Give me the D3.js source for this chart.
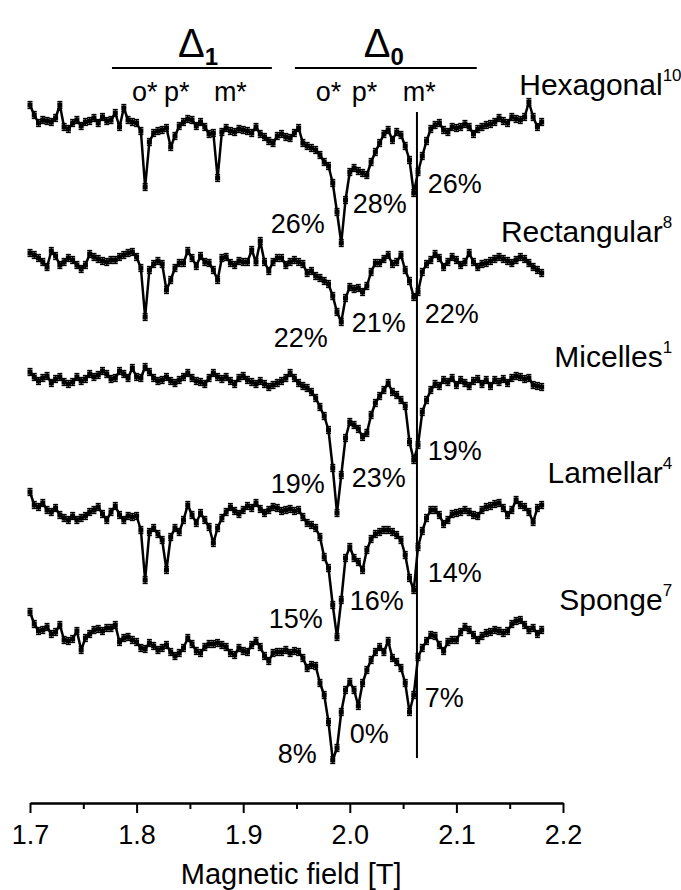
<!DOCTYPE html>
<html>
<head>
<meta charset="utf-8">
<script src="https://cdn.jsdelivr.net/npm/d3@7"></script>
<style>
  html, body { margin: 0; padding: 0; background: #fff; }
  svg { display: block; font-family: "Liberation Sans", Arial, Helvetica, sans-serif; }
</style>
</head>
<body>
<svg id="chart" width="681" height="890"></svg>
<script>
// Magnetic field grid [T]
const field = [
  1.700,1.704,1.708,1.712,1.716,1.720,1.724,1.728,1.732,1.736,
  1.740,1.744,1.748,1.752,1.756,1.760,1.764,1.768,1.772,1.776,
  1.780,1.784,1.788,1.792,1.796,1.800,1.804,1.808,1.812,1.816,
  1.820,1.824,1.828,1.832,1.836,1.840,1.844,1.848,1.852,1.856,
  1.860,1.864,1.868,1.872,1.876,1.880,1.884,1.888,1.892,1.896,
  1.900,1.904,1.908,1.912,1.916,1.920,1.924,1.928,1.932,1.936,
  1.940,1.944,1.948,1.952,1.956,1.960,1.964,1.968,1.972,1.976,
  1.980,1.984,1.988,1.992,1.996,2.000,2.004,2.008,2.012,2.016,
  2.020,2.024,2.028,2.032,2.036,2.040,2.044,2.048,2.052,2.056,
  2.060,2.064,2.068,2.072,2.076,2.080,2.084,2.088,2.092,2.096,
  2.100,2.104,2.108,2.112,2.116,2.120,2.124,2.128,2.132,2.136,
  2.140,2.144,2.148,2.152,2.156,2.160,2.164,2.168,2.172,2.176,
  2.180
];

// Relative transmission [%] for each phase
const hexagonal = [
  101.3,100.3,99.5,99.8,99.7,99.6,100.0,101.3,99.1,98.9,
  99.5,99.8,99.2,99.6,99.7,100.0,99.5,100.1,99.7,99.8,
  100.5,99.1,101.0,99.8,99.6,99.5,98.7,93.1,97.6,98.5,
  98.7,98.8,99.0,97.1,98.2,99.2,99.6,99.9,99.8,99.2,
  99.6,99.1,98.4,98.5,94.0,98.6,99.0,98.7,98.6,98.9,
  98.8,98.7,98.5,99.1,98.4,98.1,97.7,97.5,98.2,98.4,
  98.1,98.0,98.5,99.0,97.5,97.2,97.0,96.8,96.3,95.6,
  95.2,93.5,90.6,87.5,91.8,94.6,95.0,94.7,94.5,94.3,
  95.6,96.6,97.5,98.4,98.8,97.8,98.6,98.3,97.2,95.8,
  92.5,94.6,96.2,97.7,98.9,99.3,99.5,98.8,98.6,99.1,
  99.0,99.1,99.4,99.1,98.4,98.9,99.1,99.3,99.4,99.6,
  100.0,99.7,99.5,100.1,99.9,99.8,100.1,101.6,100.1,99.1,
  99.6
];
const rectangular = [
  100.5,100.3,100.0,99.6,99.1,100.7,100.2,99.3,99.6,100.0,
  99.8,99.3,98.9,99.3,100.4,100.1,99.9,99.7,99.6,99.8,
  99.8,100.1,100.3,100.5,100.6,100.1,99.0,94.1,98.8,99.4,
  99.7,99.4,96.8,97.8,99.0,99.5,99.5,100.7,100.0,99.2,
  100.2,99.6,99.5,98.8,97.8,100.0,100.1,99.5,99.3,99.7,
  99.6,99.6,100.8,99.6,101.7,99.6,98.7,99.6,100.0,100.0,
  99.3,99.6,99.8,99.6,99.4,98.5,98.7,98.2,98.0,97.7,
  97.4,96.2,94.6,93.6,96.0,97.1,96.9,97.0,96.6,97.2,
  98.6,99.5,99.5,99.9,100.3,99.4,99.6,100.3,98.8,97.7,
  96.1,96.6,98.6,99.4,99.8,100.4,100.0,99.1,99.6,100.1,
  99.8,99.3,99.6,100.5,99.6,99.1,99.4,99.5,99.7,99.9,
  100.1,99.9,99.7,99.5,99.8,100.1,99.9,99.5,99.1,98.8,
  98.5
];
const micelles = [
  100.6,100.1,99.7,100.0,100.2,99.5,99.9,100.1,99.6,99.4,
  99.6,100.1,99.7,99.9,100.4,100.1,100.3,100.7,100.4,99.9,
  100.0,100.7,100.4,100.0,101.0,100.1,100.0,101.1,100.6,100.0,
  99.7,99.8,100.1,99.7,99.5,99.8,100.1,100.5,100.0,99.7,
  99.6,99.4,100.0,100.5,100.1,99.9,100.1,99.7,99.4,100.0,
  100.2,99.8,99.6,99.4,99.7,99.4,99.1,99.3,99.5,99.7,
  100.0,100.5,100.0,99.5,99.2,99.0,98.6,98.0,97.1,96.2,
  94.8,91.0,86.5,90.3,94.0,95.6,95.3,94.9,94.1,94.5,
  96.3,97.5,98.2,98.8,99.5,98.6,98.3,97.8,97.2,93.6,
  91.8,93.3,96.6,97.8,98.8,99.4,99.2,99.8,99.6,100.0,
  99.3,99.8,99.5,99.2,99.7,99.9,99.4,99.8,99.2,99.8,
  99.6,99.9,99.5,100.0,100.2,100.1,99.9,100.0,99.3,99.2,
  99.1
];
const lamellar = [
  102.0,100.7,100.5,100.9,100.2,100.0,100.4,99.7,99.4,99.2,
  99.6,99.2,99.4,99.6,100.0,100.2,100.5,99.8,99.2,100.0,
  100.6,99.7,99.2,99.6,99.5,99.6,98.2,93.2,98.0,98.4,
  97.8,97.2,94.2,97.5,98.4,98.0,99.2,100.7,99.7,98.9,
  99.9,99.2,98.5,96.9,98.4,99.4,100.0,100.5,100.1,99.8,
  100.2,100.6,100.4,100.9,100.3,99.9,100.2,100.5,100.4,100.1,
  100.2,100.3,100.1,100.2,99.5,98.9,98.7,98.4,97.5,95.5,
  94.4,90.7,87.5,91.2,95.4,96.5,95.4,95.0,94.2,96.2,
  97.3,97.8,98.0,98.2,98.2,98.0,97.7,97.2,95.7,93.4,
  92.2,96.5,98.1,99.4,100.2,100.2,99.7,98.8,99.2,99.8,
  99.9,100.0,100.2,100.0,99.7,99.6,100.2,100.5,100.6,100.8,
  100.9,100.4,99.7,100.2,101.2,100.7,100.5,100.0,99.0,100.4,
  100.7
];
const sponge = [
  102.8,101.6,100.9,101.0,101.3,100.6,100.8,101.5,100.0,99.9,
  100.1,100.9,99.0,100.2,100.6,101.0,101.1,100.9,101.2,101.2,
  101.5,99.8,100.2,100.3,100.0,99.8,99.2,99.1,99.7,99.4,
  99.0,99.2,99.5,98.8,98.4,98.7,99.2,100.2,99.6,98.9,
  98.7,99.3,99.6,99.6,99.7,99.5,99.3,98.7,98.5,99.2,
  98.9,98.8,99.5,99.9,99.3,98.4,97.9,98.7,98.8,98.8,
  99.0,98.7,98.9,98.8,98.2,97.2,97.5,97.4,95.7,94.5,
  91.8,88.0,89.2,92.8,95.0,95.8,95.0,93.4,95.7,97.0,
  98.0,98.8,99.3,98.8,99.9,98.2,97.8,97.2,95.7,92.8,
  94.5,98.3,99.2,99.9,100.5,100.4,99.5,98.9,99.8,100.0,
  100.0,100.8,101.3,101.0,100.5,100.0,100.4,100.7,100.8,101.0,
  100.9,100.7,100.9,101.6,101.9,102.0,101.5,101.0,101.2,100.6,
  101.0
];

const seriesData = [hexagonal, rectangular, micelles, lamellar, sponge];
const seriesNames = ["Hexagonal", "Rectangular", "Micelles", "Lamellar", "Sponge"];
const seriesRefs = ["10", "8", "1", "4", "7"];
// vertical stacking offsets [%]
const seriesOffsets = [0, -14.0, -26.0, -39.4, -52.2];
// error bar half-height [%]
const errorHalf = 0.35;

// percentages written next to the o*, p* and m* lines of Δ0
const dipTexts = [
  ["26%", "28%", "26%"],
  ["22%", "21%", "22%"],
  ["19%", "23%", "19%"],
  ["15%", "16%", "14%"],
  ["8%", "0%", "7%"]
];
const dipTextField = [
  [1.9766, 2.0028, 2.0731],
  [1.9794, 2.0019, 2.0703],
  [1.9766, 2.0019, 2.0731],
  [1.9747, 2.0000, 2.0731],
  [1.9691, 2.0000, 2.0703]
];
const dipTextLevel = [
  [88.5, 90.5, 92.5],
  [91.1, 92.6, 93.5],
  [88.5, 89.1, 91.8],
  [88.4, 90.2, 93.0],
  [87.7, 89.7, 93.3]
];
const dipTextAnchor = ["end", "start", "start"];

// series name positions (right edge field, level in own units)
const nameField = 2.2935;
const nameLevel = [102.3, 101.6, 101.1, 102.9, 103.0];

// Δ1 and Δ0 group headers
const gapNames = ["1", "0"];
const gapField = [1.8388, 2.0131];
const gapBar = [[1.7769, 1.9269], [1.9485, 2.1191]];
const peakNames = ["o*", "p*", "m*"];
const peakField = [[1.7956, 1.8256, 1.8725], [1.9681, 2.0019, 2.0497]];

// m* reference line of Δ0
const refLineField = 2.063;
const refLineLevels = [100.6, 36.0];

const majorTicks = [1.7, 1.8, 1.9, 2.0, 2.1, 2.2];
const minorTicks = [1.75, 1.85, 1.95, 2.05, 2.15];
const axisTitle = "Magnetic field [T]";

// ---------------------------------------------------------------
const svg = d3.select("#chart");
const x = d3.scaleLinear().domain([1.7, 2.2]).range([30, 563]);
const y = d3.scaleLinear().domain([30, 110]).range([818, 18]);
const axisY = 803;

const line = d3.line().x(d => x(d[0])).y(d => y(d[1]));

seriesData.forEach((vals, s) => {
  const off = seriesOffsets[s];
  const pts = vals.map((v, i) => [field[i], v + off]);
  const g = svg.append("g").attr("class", "series");

  // error bars
  const eb = g.append("g").attr("stroke", "#000").attr("stroke-width", 1.3);
  pts.forEach(p => {
    const px = x(p[0]);
    const y1 = y(p[1] - errorHalf), y2 = y(p[1] + errorHalf);
    eb.append("line").attr("x1", px).attr("x2", px).attr("y1", y1).attr("y2", y2);
    eb.append("line").attr("x1", px - 2.5).attr("x2", px + 2.5).attr("y1", y1).attr("y2", y1);
    eb.append("line").attr("x1", px - 2.5).attr("x2", px + 2.5).attr("y1", y2).attr("y2", y2);
  });

  g.append("path").datum(pts)
    .attr("d", line)
    .attr("fill", "none")
    .attr("stroke", "#000")
    .attr("stroke-width", 2.5)
    .attr("stroke-linejoin", "round");

  g.selectAll("rect.m").data(pts).join("rect")
    .attr("class", "m")
    .attr("x", d => x(d[0]) - 2.5).attr("y", d => y(d[1]) - 2.5)
    .attr("width", 5).attr("height", 5)
    .attr("fill", "#000");

  // dip percentages
  dipTexts[s].forEach((t, k) => {
    svg.append("text")
      .attr("x", x(dipTextField[s][k]))
      .attr("y", y(dipTextLevel[s][k] + off))
      .attr("text-anchor", dipTextAnchor[k])
      .attr("font-size", 27)
      .text(t);
  });

  // phase name with reference superscript, right edge of the name at nameField
  const nt = svg.append("text")
    .attr("y", y(nameLevel[s] + off))
    .attr("font-size", 30);
  nt.append("tspan").text(seriesNames[s]);
  nt.append("tspan").attr("font-size", 17).attr("dy", -14).text(seriesRefs[s]);
  const nameW = nt.select("tspan").node().getComputedTextLength();
  nt.attr("x", x(nameField) - nameW);
});

// m* reference line
svg.append("line")
  .attr("x1", x(refLineField)).attr("x2", x(refLineField))
  .attr("y1", y(refLineLevels[0])).attr("y2", y(refLineLevels[1]))
  .attr("stroke", "#000").attr("stroke-width", 2);

// headers
const headerBaseline = 57, headerBarY = 68, peakBaseline = 101;
gapNames.forEach((n, k) => {
  const t = svg.append("text")
    .attr("x", x(gapField[k])).attr("y", headerBaseline)
    .attr("font-size", 40);
  t.append("tspan").text("\u0394");
  t.append("tspan").attr("font-size", 24).attr("font-weight", "bold").attr("dy", 8).text(n);
  svg.append("line")
    .attr("x1", x(gapBar[k][0])).attr("x2", x(gapBar[k][1]))
    .attr("y1", headerBarY).attr("y2", headerBarY)
    .attr("stroke", "#000").attr("stroke-width", 2);
  peakNames.forEach((p, j) => {
    svg.append("text")
      .attr("x", x(peakField[k][j])).attr("y", peakBaseline)
      .attr("font-size", 27)
      .text(p);
  });
});

// x axis
const axisMajor = d3.axisBottom(x).tickValues(majorTicks)
  .tickFormat(d3.format(".1f")).tickSize(10).tickSizeOuter(0).tickPadding(12);
const axisMinor = d3.axisBottom(x).tickValues(minorTicks)
  .tickFormat("").tickSize(6).tickSizeOuter(0);

const gMinor = svg.append("g").attr("transform", `translate(0,${axisY})`).call(axisMinor);
const gMajor = svg.append("g").attr("transform", `translate(0,${axisY})`).call(axisMajor);
[gMinor, gMajor].forEach(g => {
  g.select(".domain").attr("stroke", "#000").attr("stroke-width", 2);
  g.selectAll(".tick line").attr("stroke", "#000").attr("stroke-width", 2);
});
gMajor.selectAll(".tick text")
  .attr("font-size", 27)
  .attr("font-family", "Liberation Sans, Arial, sans-serif")
  .attr("fill", "#000");

svg.append("text")
  .attr("x", x(1.945)).attr("y", 884)
  .attr("text-anchor", "middle")
  .attr("font-size", 29)
  .text(axisTitle);
</script>
</body>
</html>
